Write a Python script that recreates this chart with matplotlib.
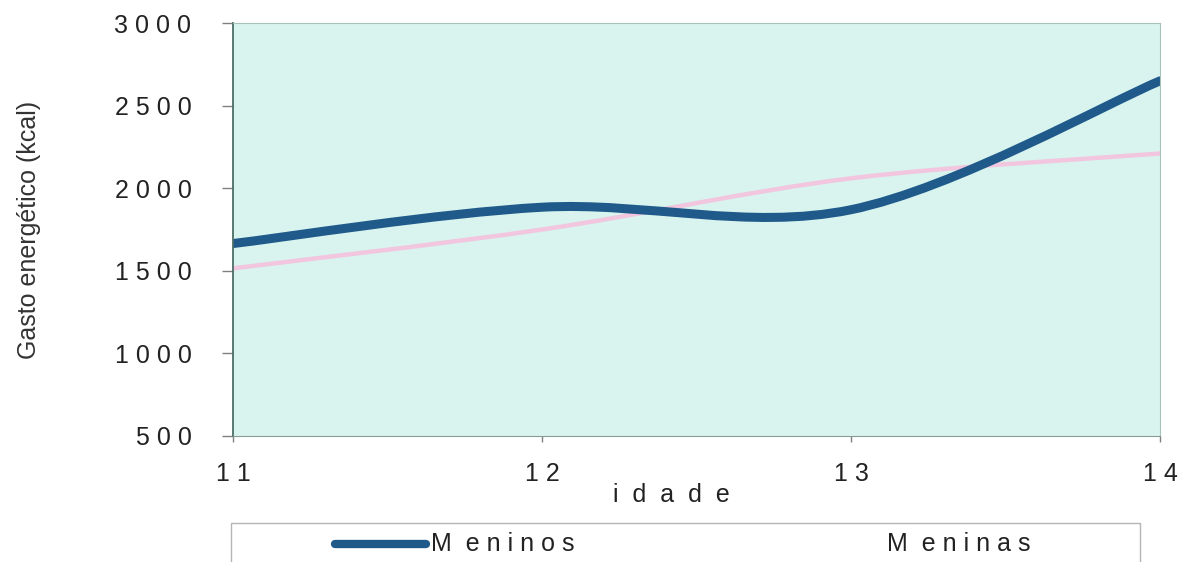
import matplotlib.pyplot as plt
from matplotlib.path import Path
from matplotlib.patches import PathPatch, Rectangle
from matplotlib.lines import Line2D

plt.rcParams['font.family'] = ['Liberation Sans', 'DejaVu Sans']

idade = [11, 12, 13, 14]
meninos = [1665, 1885, 1870, 2650]
meninas = [1515, 1750, 2060, 2210]

y_ticks = [500, 1000, 1500, 2000, 2500, 3000]
y_labels = ["5 0 0", "1 0 0 0", "1 5 0 0", "2 0 0 0", "2 5 0 0", "3 0 0 0"]
x_labels = ["1 1", "1 2", "1 3", "1 4"]


def smooth_path(xs, ys):
    # bezier through the points, control points as in a spreadsheet "smoothed line"
    pts = list(zip(xs, ys))
    verts = [pts[0]]
    codes = [Path.MOVETO]
    n = len(pts)
    for i in range(n - 1):
        p0 = pts[i - 1] if i > 0 else pts[i]
        p1 = pts[i]
        p2 = pts[i + 1]
        p3 = pts[i + 2] if i + 2 < n else pts[i + 1]
        c1 = (p1[0] + (p2[0] - p0[0]) / 6, p1[1] + (p2[1] - p0[1]) / 6)
        c2 = (p2[0] - (p3[0] - p1[0]) / 6, p2[1] - (p3[1] - p1[1]) / 6)
        verts += [c1, c2, p2]
        codes += [Path.CURVE4] * 3
    return Path(verts, codes)


fig = plt.figure(figsize=(11.83, 5.62), dpi=100)
ax = fig.add_axes([0.197, 0.2242, 0.7836, 0.7348])
ax.set_facecolor('#d9f4ef')

ax.add_patch(PathPatch(smooth_path(idade, meninas), fill=False,
                       edgecolor='#f2c6df', lw=3.2, capstyle='round'))
ax.add_patch(PathPatch(smooth_path(idade, meninos), fill=False,
                       edgecolor='#1f5a8a', lw=6.5, capstyle='round'))

ax.set_xlim(11, 14)
ax.set_ylim(500, 3000)
ax.set_xticks(idade)
ax.set_xticklabels(x_labels)
ax.set_yticks(y_ticks)
ax.set_yticklabels(y_labels)
ax.tick_params(axis='both', labelsize=18, colors='#222222', width=1,
               direction='out')
ax.tick_params(axis='y', length=8, pad=22, color='#808080')
ax.tick_params(axis='x', length=4.5, pad=14, color='#808080')

ax.spines['left'].set_color('#4c6e66')
ax.spines['left'].set_linewidth(1.3)
ax.spines['bottom'].set_color('#8a9a96')
ax.spines['top'].set_color('#a8c2bb')
ax.spines['right'].set_color('#a8c2bb')

ax.set_ylabel("Gasto energético (kcal)", fontsize=18, color='#333333')
ax.yaxis.set_label_coords(-0.207, 0.5)
ax.set_xlabel("i  d  a  d  e", fontsize=18, color='#222222')
ax.xaxis.set_label_coords(0.473, -0.115)

# legend box below the axes
fig.add_artist(Rectangle((0.195, -0.05), 0.769, 0.12, transform=fig.transFigure,
                         facecolor='white', edgecolor='#b5b5b5', lw=1))
fig.add_artist(Line2D([0.283, 0.360], [0.032, 0.032], transform=fig.transFigure,
                      color='#1f5a8a', lw=6, solid_capstyle='round'))
fig.text(0.364, 0.032, "M  e n i n o s", fontsize=18, color='#222222', va='center')
fig.text(0.750, 0.032, "M  e n i n a s", fontsize=18, color='#222222', va='center')

fig.savefig('out.png', dpi=100)
